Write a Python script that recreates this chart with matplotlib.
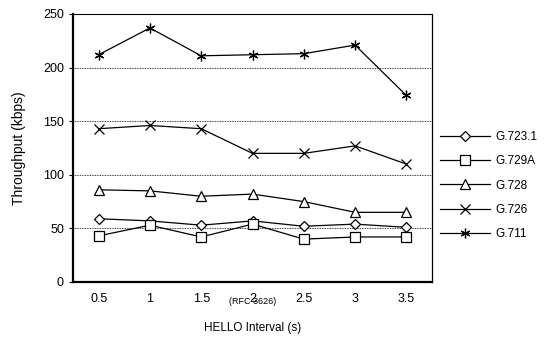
import matplotlib
matplotlib.use("Agg")
import matplotlib.pyplot as plt
import numpy as np

plt.rcParams["font.family"] = ["Liberation Sans", "DejaVu Sans"]

intervals = ["0.5", "1", "1.5", "2", "2.5", "3", "3.5"]
g7231 = [59, 57, 53, 57, 52, 54, 51]
g729a = [43, 53, 42, 54, 40, 42, 42]
g728 = [86, 85, 80, 82, 75, 65, 65]
g726 = [143, 146, 143, 120, 120, 127, 110]
g711 = [212, 237, 211, 212, 213, 221, 174]

series = [
    ("G.723.1", g7231, "D", 5),
    ("G.729A", g729a, "s", 7),
    ("G.728", g728, "^", 7),
    ("G.726", g726, "x", 7),
    ("G.711", g711, (6, 2, 0), 7),
]

fig = plt.figure(figsize=(5.45, 3.37), dpi=100)
ax = fig.add_axes([73 / 545, 55 / 337, 359 / 545, 268 / 337])

x = np.arange(len(intervals))
for name, vals, mk, ms in series:
    ax.plot(x, vals, color="black", linewidth=0.9, marker=mk, markersize=ms,
            markerfacecolor="white", markeredgecolor="black", markeredgewidth=0.9,
            label=name)

ax.set_xlim(-0.5, len(intervals) - 0.5)
ax.set_ylim(0, 250)
ax.set_yticks([0, 50, 100, 150, 200, 250])
ax.set_xticks(x)
ax.set_xticklabels(intervals)
for yv in [50, 100, 150, 200]:
    ax.axhline(yv, color="black", linestyle=(0, (1, 1)), linewidth=0.6, zorder=0)

ax.tick_params(axis="both", labelsize=9, length=3, width=0.8, direction="out")
ax.tick_params(axis="x", length=0, pad=8)
for side in ["left", "bottom"]:
    ax.spines[side].set_linewidth(1.6)
ax.spines["top"].set_linestyle((0, (1, 1)))
ax.spines["top"].set_linewidth(0.8)
ax.spines["right"].set_linewidth(0.9)

ax.set_ylabel("Throughput (kbps)", fontsize=10, labelpad=12)
ax.set_xlabel("HELLO Interval (s)", fontsize=8.5, labelpad=12)
ax.text(3, -0.055, "(RFC 3626)", transform=ax.get_xaxis_transform(),
        ha="center", va="top", fontsize=6.5)

fig.legend(loc="upper left", bbox_to_anchor=(435 / 545, 1 - 126 / 337),
           frameon=False, fontsize=8.5, handlelength=4.3, labelspacing=1.05,
           handletextpad=0.4, borderaxespad=0)

fig.savefig("out.png", dpi=100)
